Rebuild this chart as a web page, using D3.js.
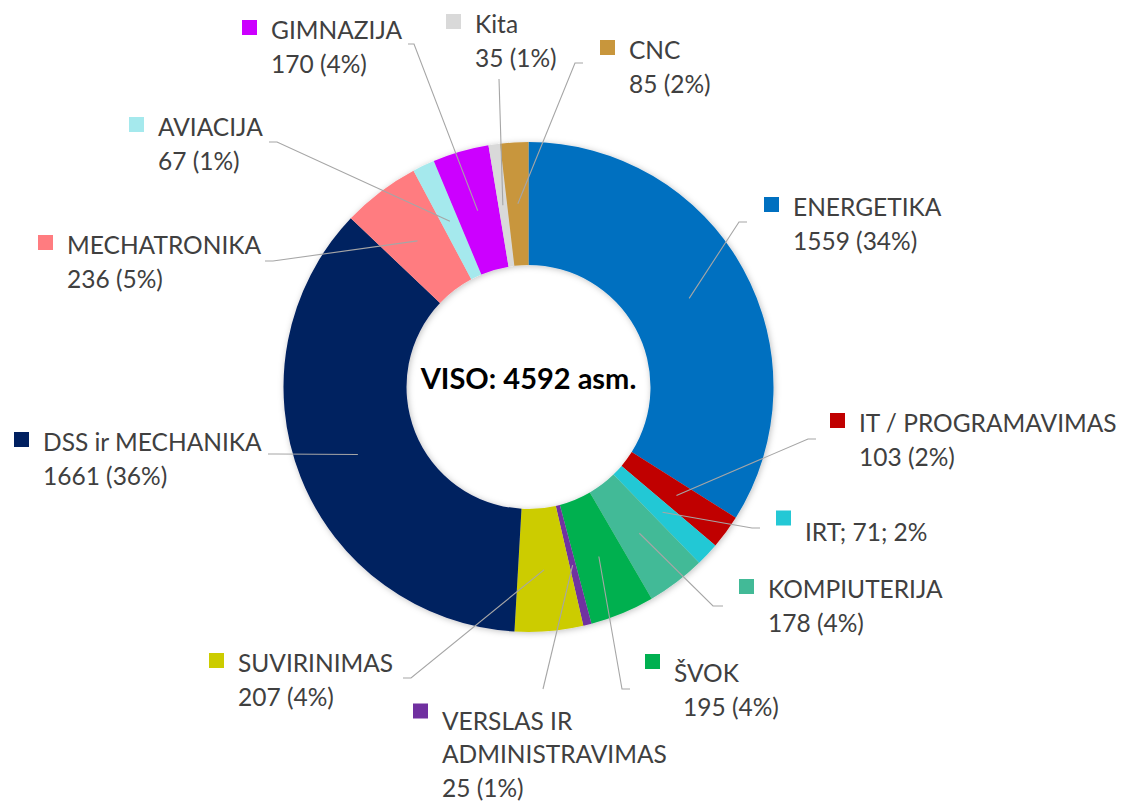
<!DOCTYPE html>
<html>
<head>
<meta charset="utf-8">
<script src="https://cdn.jsdelivr.net/npm/d3@7"></script>
<style>
  body { margin: 0; background: #fff; }
  #chart text { font-family: Lato, "Liberation Sans", sans-serif; }
</style>
</head>
<body>
<div id="chart"></div>
<script>
// data
const categories = ["ENERGETIKA", "IT / PROGRAMAVIMAS", "IRT", "KOMPIUTERIJA", "ŠVOK",
    "VERSLAS IR ADMINISTRAVIMAS", "SUVIRINIMAS", "DSS ir MECHANIKA", "MECHATRONIKA",
    "AVIACIJA", "GIMNAZIJA", "Kita", "CNC"];
const values = [1559, 103, 71, 178, 195, 25, 207, 1661, 236, 67, 170, 35, 85];
const percents = ["34%", "2%", "2%", "4%", "4%", "1%", "4%", "36%", "5%", "1%", "4%", "1%", "2%"];
const totalLabel = "VISO: 4592 asm.";

const colors = ["#0070C0", "#C00000", "#24C8D5", "#42BA97", "#00B050", "#7030A0", "#CCCC00",
    "#002060", "#FF7C80", "#A5E9ED", "#CC00FF", "#D9D9D9", "#C8963C"];

// label placement (text x, first line middle y, leader end, stub, key offset)
const labelLayout = [
    {x: 793, y: 207, end: [747, 222], stub: -8},
    {x: 859, y: 423, end: [816, 439], stub: -8},
    {x: 805, y: 532, end: [760, 528], stub: -8, sqDy: -14, inline: true},
    {x: 768, y: 589, end: [723, 606], stub: -10},
    {x: 674, y: 673, end: [630, 689], stub: -8, sqDy: -11.5, dx2: 9},
    {x: 442, y: 721, end: [543, 689], stub: 0, sqDy: -10, wrap: 2, lh: 33.5},
    {x: 238, y: 663, end: [403, 678], stub: 8},
    {x: 43, y: 442, end: [268, 454], stub: 8},
    {x: 67, y: 245, end: [265, 261], stub: 8},
    {x: 158, y: 127, end: [269, 142], stub: 8},
    {x: 271, y: 30, end: [408, 44], stub: 6},
    {x: 475, y: 24, end: [499, 79], stub: 0},
    {x: 629, y: 50, end: [583, 63], stub: -8}
];

const width = 1130, height = 803;
const cx = 528.5, cy = 387;
const outerR = 245, innerR = 122;
const lineH = 34.5;

const svg = d3.select("#chart").append("svg")
    .attr("width", width)
    .attr("height", height);

svg.append("rect").attr("width", width).attr("height", height).attr("fill", "#fff");

// soft shadow like the office chart
const defs = svg.append("defs");
defs.append("filter")
    .attr("id", "shadow")
    .attr("x", "-10%").attr("y", "-10%").attr("width", "120%").attr("height", "120%")
    .append("feDropShadow")
    .attr("dx", 1).attr("dy", 1)
    .attr("stdDeviation", 3)
    .attr("flood-color", "#000")
    .attr("flood-opacity", 0.25);

const pie = d3.pie().sort(null).value(d => d);
const arcs = pie(values);

const arc = d3.arc().innerRadius(innerR).outerRadius(outerR);

const g = svg.append("g").attr("transform", `translate(${cx},${cy})`);

g.append("g")
    .attr("filter", "url(#shadow)")
    .selectAll("path")
    .data(arcs)
    .join("path")
    .attr("d", arc)
    .attr("fill", (d, i) => colors[i]);

// leader lines from slice centroid to label
svg.append("g")
    .selectAll("polyline")
    .data(arcs)
    .join("polyline")
    .attr("fill", "none")
    .attr("stroke", "#A6A6A6")
    .attr("stroke-width", 1.1)
    .attr("points", (d, i) => {
        const c = arc.centroid(d);
        const L = labelLayout[i];
        const pts = [[c[0] + cx, c[1] + cy]];
        if (L.stub) pts.push([L.end[0] + L.stub, L.end[1]]);
        pts.push(L.end);
        return pts.map(p => p.join(",")).join(" ");
    });

// labels
function labelLines(i) {
    const L = labelLayout[i];
    if (L.inline) return [`${categories[i]}; ${values[i]}; ${percents[i]}`];
    let lines = [categories[i]];
    if (L.wrap) {
        const words = categories[i].split(" ");
        lines = [words.slice(0, L.wrap).join(" "), words.slice(L.wrap).join(" ")];
    }
    lines.push(`${values[i]} (${percents[i]})`);
    return lines;
}

const labels = svg.append("g")
    .selectAll("g")
    .data(arcs)
    .join("g");

labels.append("rect")
    .attr("x", (d, i) => labelLayout[i].x - 29)
    .attr("y", (d, i) => labelLayout[i].y - 7.5 + (labelLayout[i].sqDy || -2.5))
    .attr("width", 15)
    .attr("height", 15)
    .attr("fill", (d, i) => colors[i]);

labels.each(function(d, i) {
    const L = labelLayout[i];
    const lines = labelLines(i);
    const lh = L.lh || lineH;
    const t = d3.select(this).append("text")
        .attr("font-size", 24.5)
        .attr("fill", "#404040");
    lines.forEach((ln, k) => {
        const isLast = k === lines.length - 1 && k > 0;
        t.append("tspan")
            .attr("x", L.x + (isLast && L.dx2 ? L.dx2 : 0))
            .attr("y", L.y + k * lh)
            .attr("dy", "0.35em")
            .text(ln);
    });
});

// total in the hole
svg.append("text")
    .attr("x", cx)
    .attr("y", 389)
    .attr("text-anchor", "middle")
    .attr("font-size", 29)
    .attr("font-weight", "bold")
    .attr("fill", "#000")
    .text(totalLabel);
</script>
</body>
</html>
